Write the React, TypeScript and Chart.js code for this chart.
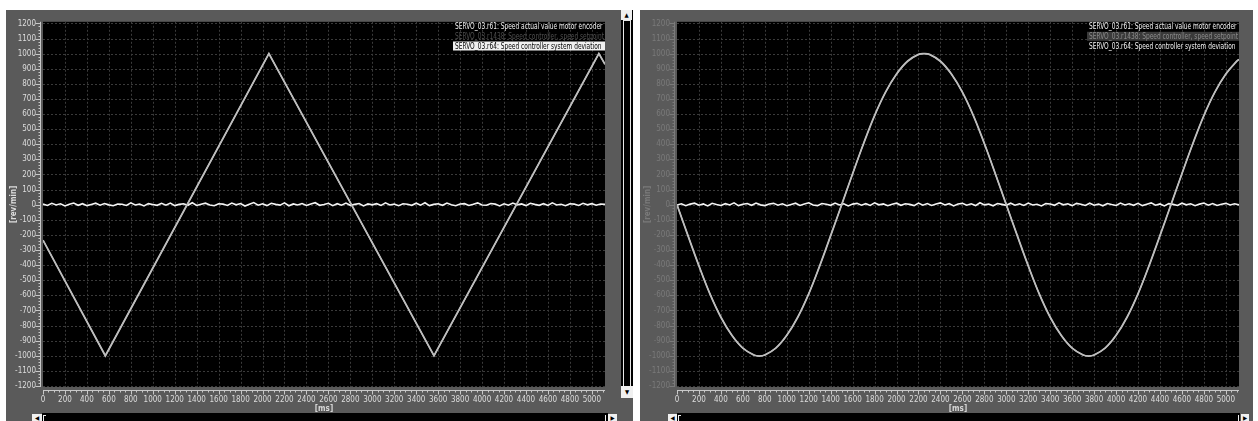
import React, { useEffect, useRef } from 'react';
import { Chart, registerables } from 'chart.js';

Chart.register(...registerables);

// ---------- data ----------
const X_TICKS = [0, 200, 400, 600, 800, 1000, 1200, 1400, 1600, 1800, 2000, 2200, 2400, 2600, 2800, 3000, 3200, 3400, 3600, 3800, 4000, 4200, 4400, 4600, 4800, 5000];
const Y_TICKS = [-1200, -1100, -1000, -900, -800, -700, -600, -500, -400, -300, -200, -100, 0, 100, 200, 300, 400, 500, 600, 700, 800, 900, 1000, 1100, 1200];
const X_MIN = 0;
const X_MAX = 5120;
const Y_MIN = -1207;
const Y_MAX = 1211;
const X_MINOR_STEP = 50;
const Y_MINOR_STEP = 20;

const LEGEND_LABELS = [
  'SERVO_03.r61: Speed actual value motor encoder',
  'SERVO_03.r1438: Speed controller, speed setpoint',
  'SERVO_03.r64: Speed controller system deviation',
];
const X_TITLE = '[ms]';
const Y_TITLE = '[rev/min]';

// left panel: triangular speed profile (vertices)
const TRI_T = [0, 568, 2058, 3562, 5064, 5120];
const TRI_V = [-235, -1000, 1000, -1000, 1000, 930];

// right panel: sinusoidal speed profile
const SINE_T = [0, 100, 200, 300, 400, 500, 600, 700, 750, 800, 900, 1000, 1100, 1200, 1300, 1400, 1500, 1600, 1700, 1800, 1900, 2000, 2100, 2200, 2250, 2300, 2400, 2500, 2600, 2700, 2800, 2900, 3000, 3100, 3200, 3300, 3400, 3500, 3600, 3700, 3750, 3800, 3900, 4000, 4100, 4200, 4300, 4400, 4500, 4600, 4700, 4800, 4900, 5000, 5100, 5120];
const SINE_V = [0, -205, -405, -590, -745, -865, -950, -995, -1002, -995, -950, -865, -745, -590, -405, -205, 0, 205, 405, 590, 745, 865, 950, 995, 1000, 995, 950, 865, 745, 590, 405, 205, 0, -205, -405, -590, -745, -865, -950, -995, -1002, -995, -950, -865, -745, -590, -405, -205, 0, 205, 405, 590, 745, 865, 950, 962];

// system deviation (noise around zero), sampled every NOISE_STEP ms
const NOISE_STEP = 40;
const NOISE_L = [
  4, -5, 9, -2, 6, -8, 3, 11, -4, 7, -6, 2, 10, -3, 8, -1,
  -7, 5, 3, -5, 12, -2, 4, -8, 7, 1, -4, 9, -3, 11, -6, 2,
  6, -4, 13, -5, 3, 10, -2, -7, 6, 4, -5, 11, -1, 8, -9, 3,
  14, -3, 6, -6, 9, 2, -3, 12, -7, 5, -2, 8, -5, 4, 13, -4,
  1, 9, -6, 7, -3, 11, -4, 2, 8, -8, 5, -1, 7, -5, 12, -2,
  4, -7, 6, 3, -4, 10, -3, 13, -6, 2, 6, -4, 11, -1, -7, 5,
  7, -5, 3, 12, -2, -4, 8, 4, -8, 6, -3, 11, -1, 5, -6, 9,
  2, -4, 7, -5, 12, -2, 3, -7, 6, 4, -5, 9, -1, 7, -3, 5,
  2,
];
const NOISE_R = [
  -2, 6, -7, 4, 10, -3, 5, -8, 9, 1, -5, 7, -2, 12, -6, 3,
  8, -4, 11, -1, -6, 5, 9, -3, 6, -7, 2, 10, -5, 4, 13, -2,
  -6, 8, 3, -4, 11, -2, 6, -8, 4, 9, -3, 7, -5, 12, -1, 5,
  -7, 3, 10, -4, 6, 2, -6, 11, -3, 8, -5, 4, 12, -2, 7, -8,
  5, 9, -3, 6, -6, 13, -1, 4, -7, 8, 2, -4, 10, -3, 6, -5,
  11, -2, 3, -8, 7, 5, -4, 12, -1, 6, -6, 9, 3, -5, 10, -3,
  4, -7, 8, 1, -5, 11, -2, 6, -4, 9, -6, 3, 12, -3, 5, -8,
  7, 2, -5, 10, -1, 6, -7, 4, 11, -3, 8, -5, 3, 9, -2, 6,
  -1,
];

// ---------- style ----------
const FONT = '"Liberation Sans Narrow", "DejaVu Sans Condensed", "Liberation Sans", Arial, sans-serif';
const PANEL_BG = '#5a5a5a';
const LEGEND_WIDTH = 149;

type LegendStyle = { color: string; bg: string | null };
type PanelCfg = {
  left: number;
  width: number;
  padTop: number;
  padRight: number;
  curveT: number[];
  curveV: number[];
  smooth: boolean;
  noise: number[];
  yLabelColor: string;
  yAxisColor: string;
  yTitleColor: string;
  legend: LegendStyle[];
};

const toPts = (t: number[], v: number[]) => t.map((x, i) => ({ x, y: v[i] }));
const noisePts = (n: number[]) => n.map((y, i) => ({ x: Math.min(i * NOISE_STEP, X_MAX), y }));

function Panel({ cfg }: { cfg: PanelCfg }) {
  const ref = useRef<HTMLCanvasElement | null>(null);
  useEffect(() => {
    if (!ref.current) return;
    const line = (ctx: CanvasRenderingContext2D, x1: number, y1: number, x2: number, y2: number) => {
      ctx.beginPath();
      ctx.moveTo(x1, y1);
      ctx.lineTo(x2, y2);
      ctx.stroke();
    };
    const framePlugin = {
      id: 'frame',
      beforeDraw(chart: any) {
        const { ctx, chartArea: a, scales } = chart;
        const x = scales.x;
        const y = scales.y;
        ctx.save();
        ctx.fillStyle = PANEL_BG;
        ctx.fillRect(0, 0, chart.width, chart.height);
        ctx.fillStyle = '#000';
        ctx.fillRect(a.left, a.top, a.right - a.left, a.bottom - a.top);
        // dotted grid
        ctx.strokeStyle = '#3a3a3a';
        ctx.lineWidth = 1;
        ctx.setLineDash([2, 2]);
        for (const v of X_TICKS) {
          const px = Math.round(x.getPixelForValue(v)) + 0.5;
          if (px <= a.left + 1) continue;
          line(ctx, px, a.top, px, a.bottom);
        }
        for (const v of Y_TICKS) {
          const py = Math.round(y.getPixelForValue(v)) + 0.5;
          line(ctx, a.left, py, a.right, py);
        }
        ctx.setLineDash([]);
        // y ruler
        const ax = a.left - 3 + 0.5;
        ctx.strokeStyle = cfg.yAxisColor;
        line(ctx, ax, a.top, ax, a.bottom);
        for (let v = Y_TICKS[0]; v <= Y_TICKS[Y_TICKS.length - 1]; v += Y_MINOR_STEP) {
          const py = Math.round(y.getPixelForValue(v)) + 0.5;
          const major = Y_TICKS.includes(v);
          line(ctx, ax - (major ? 5 : 2), py, ax, py);
        }
        // x ruler
        const ay = a.bottom + 3 + 0.5;
        ctx.strokeStyle = '#c8c8c8';
        line(ctx, a.left, ay, a.right, ay);
        for (let v = X_MIN; v <= X_MAX; v += X_MINOR_STEP) {
          const px = Math.round(x.getPixelForValue(v)) + 0.5;
          const major = X_TICKS.includes(v);
          line(ctx, px, ay, px, ay + (major ? 4 : 2));
        }
        ctx.restore();
      },
      afterDraw(chart: any) {
        const { ctx, chartArea: a } = chart;
        ctx.save();
        // axis titles
        ctx.font = `bold 8px ${FONT}`;
        ctx.textAlign = 'center';
        ctx.textBaseline = 'middle';
        ctx.fillStyle = cfg.yTitleColor;
        ctx.save();
        ctx.translate(8, (a.top + a.bottom) / 2);
        ctx.rotate(-Math.PI / 2);
        ctx.fillText(Y_TITLE, 0, 0);
        ctx.restore();
        ctx.fillStyle = '#d8d8d8';
        ctx.fillText(X_TITLE, (a.left + a.right) / 2, a.bottom + 22);
        // legend (horizontally condensed to the reference width)
        ctx.font = `8.5px ${FONT}`;
        ctx.textAlign = 'left';
        const mw = Math.max(...LEGEND_LABELS.map((s) => ctx.measureText(s).width));
        const sx = Math.min(1, LEGEND_WIDTH / mw);
        const boxL = a.right - LEGEND_WIDTH - 3;
        LEGEND_LABELS.forEach((s, i) => {
          const cy = a.top + 4.8 + i * 9.7;
          const st = cfg.legend[i];
          if (st.bg) {
            ctx.fillStyle = st.bg;
            ctx.fillRect(boxL, cy - 4.5, a.right - boxL, 9);
          }
          ctx.fillStyle = st.color;
          ctx.save();
          ctx.translate(boxL + 2, cy + 0.5);
          ctx.scale(sx, 1);
          ctx.fillText(s, 0, 0);
          ctx.restore();
        });
        ctx.restore();
      },
    };

    const curve = toPts(cfg.curveT, cfg.curveV);
    const tension = cfg.smooth ? 0.4 : 0;
    const chart = new Chart(ref.current, {
      type: 'line',
      data: {
        datasets: [
          {
            label: LEGEND_LABELS[1],
            data: curve,
            borderColor: '#bdbdbd',
            borderWidth: 1.8,
            pointRadius: 0,
            tension,
          },
          {
            label: LEGEND_LABELS[0],
            data: curve,
            borderColor: '#f6f6f6',
            borderWidth: 1.1,
            pointRadius: 0,
            tension,
          },
          {
            label: LEGEND_LABELS[2],
            data: noisePts(cfg.noise),
            borderColor: '#f4f4f4',
            borderWidth: 1.6,
            pointRadius: 0,
            tension: 0,
          },
        ],
      } as any,
      options: {
        animation: false,
        responsive: false,
        devicePixelRatio: 1,
        layout: { padding: { left: 0, top: cfg.padTop, right: cfg.padRight, bottom: 0 } },
        plugins: { legend: { display: false }, tooltip: { enabled: false } },
        scales: {
          x: {
            type: 'linear',
            min: X_MIN,
            max: X_MAX,
            afterFit: (s: any) => { s.height = 26; },
            afterBuildTicks: (s: any) => { s.ticks = X_TICKS.map((value) => ({ value })); },
            grid: { display: false, drawTicks: false },
            border: { display: false },
            ticks: {
              autoSkip: false,
              maxRotation: 0,
              minRotation: 0,
              padding: 8,
              color: '#dcdcdc',
              font: { family: FONT, size: 8 },
              callback: (v: any) => String(v),
            },
          },
          y: {
            type: 'linear',
            min: Y_MIN,
            max: Y_MAX,
            afterFit: (s: any) => { s.width = 37; },
            afterBuildTicks: (s: any) => { s.ticks = Y_TICKS.map((value) => ({ value })); },
            grid: { display: false, drawTicks: false },
            border: { display: false },
            ticks: {
              autoSkip: false,
              padding: 7,
              color: cfg.yLabelColor,
              font: { family: FONT, size: 8 },
              callback: (v: any) => String(v),
            },
          },
        },
      } as any,
      plugins: [framePlugin],
    });
    return () => chart.destroy();
  }, [cfg]);

  return (
    <div style={{ position: 'absolute', left: cfg.left, top: 10, width: cfg.width, height: 411, background: PANEL_BG }}>
      <canvas ref={ref} width={cfg.width} height={403} style={{ display: 'block', width: cfg.width, height: 403 }} />
    </div>
  );
}

const LEFT_CFG: PanelCfg = {
  left: 6,
  width: 614,
  padTop: 9,
  padRight: 15,
  curveT: TRI_T,
  curveV: TRI_V,
  smooth: false,
  noise: NOISE_L,
  yLabelColor: '#dcdcdc',
  yAxisColor: '#c8c8c8',
  yTitleColor: '#dcdcdc',
  legend: [
    { color: '#f2f2f2', bg: null },
    { color: '#4e4e4e', bg: null },
    { color: '#000000', bg: '#f0f0f0' },
  ],
};

const RIGHT_CFG: PanelCfg = {
  left: 640,
  width: 613,
  padTop: 10,
  padRight: 14,
  curveT: SINE_T,
  curveV: SINE_V,
  smooth: true,
  noise: NOISE_R,
  yLabelColor: '#7a7a7a',
  yAxisColor: '#7a7a7a',
  yTitleColor: '#7a7a7a',
  legend: [
    { color: '#f2f2f2', bg: null },
    { color: '#8c8c8c', bg: '#3a3a3a' },
    { color: '#f2f2f2', bg: null },
  ],
};

const box = (l: number, t: number, w: number, h: number, bg: string, extra: React.CSSProperties = {}) => (
  <div style={{ position: 'absolute', left: l, top: t, width: w, height: h, background: bg, ...extra }} />
);

const arrow = (l: number, t: number, w: number, h: number, ch: string) => (
  <div
    style={{
      position: 'absolute', left: l, top: t, width: w, height: h, background: '#f0f0f0',
      color: '#000', fontSize: 6, lineHeight: `${h}px`, textAlign: 'center', fontFamily: FONT, overflow: 'hidden',
    }}
  >
    {ch}
  </div>
);

export default function App() {
  return (
    <div style={{ position: 'absolute', left: 0, top: 0, width: 1258, height: 421, background: '#fff', overflow: 'hidden' }}>
      <Panel cfg={LEFT_CFG} />
      <Panel cfg={RIGHT_CFG} />
      {/* left horizontal scrollbar */}
      {arrow(32, 414, 10, 7, '◀')}
      {box(42, 413, 566, 8, '#000')}
      {box(43, 415, 1, 6, '#f0f0f0')}
      {box(43, 415, 3, 1, '#f0f0f0')}
      {box(605, 415, 1, 6, '#f0f0f0')}
      {arrow(608, 414, 9, 7, '▶')}
      {/* vertical scrollbar between panels */}
      {box(620, 10, 13, 411, PANEL_BG)}
      {box(621, 10, 12, 388, '#000')}
      {arrow(621, 10, 11, 10, '▲')}
      {box(623, 20, 1, 366, '#e8e8e8')}
      {box(630, 20, 1, 366, '#e8e8e8')}
      {box(623, 20, 8, 1, '#e8e8e8')}
      {arrow(621, 386, 12, 12, '▼')}
      {/* right horizontal scrollbar */}
      {arrow(668, 414, 9, 7, '◀')}
      {box(677, 413, 563, 8, '#000')}
      {box(678, 415, 1, 6, '#f0f0f0')}
      {box(678, 415, 3, 1, '#f0f0f0')}
      {box(1238, 415, 1, 6, '#f0f0f0')}
      {arrow(1241, 414, 8, 7, '▶')}
    </div>
  );
}
